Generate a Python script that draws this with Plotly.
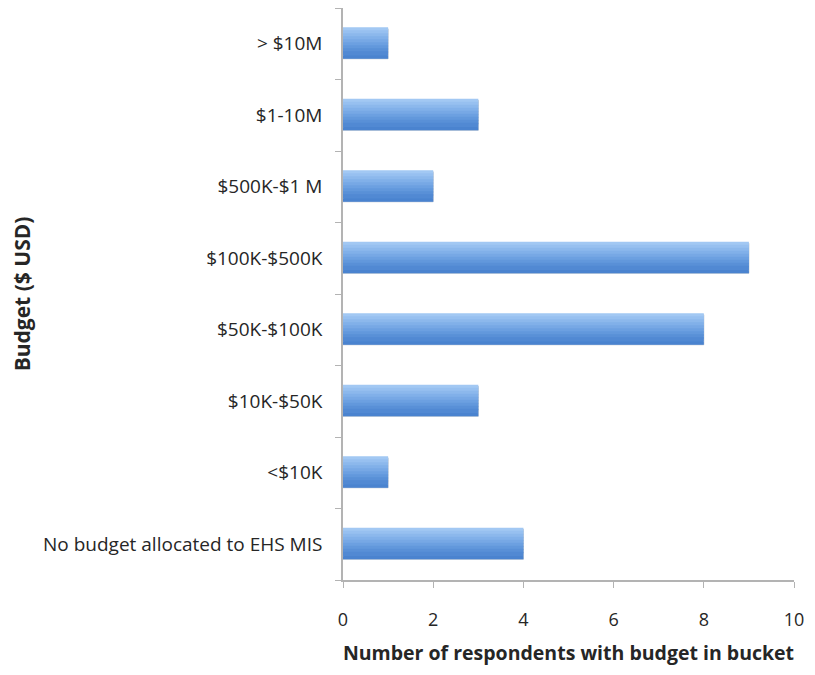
import plotly.graph_objects as go

# categories listed bottom to top
budgets = ["No budget allocated to EHS MIS", "<$10K", "$10K-$50K", "$50K-$100K",
           "$100K-$500K", "$500K-$1 M", "$1-10M", "> $10M"]
respondents = [4, 1, 3, 8, 9, 2, 3, 1]
x_ticks = [0, 2, 4, 6, 8, 10]

# light-to-dark vertical shading, top strip first
shades = ["#a2c8f3", "#97c0f0", "#8cb8ec", "#81b0e9", "#77a8e5",
          "#6ca0e1", "#6298dc", "#5990d7", "#5189d3", "#4a83cf"]
bar_w = 0.42
strip = bar_w / len(shades)

fig = go.Figure()
fig.add_trace(go.Bar(y=budgets, x=respondents, orientation="h", width=bar_w,
                     marker=dict(color="#4a83cf", line=dict(color="#c3cbd6", width=1)),
                     showlegend=False, hoverinfo="skip"))
for i, c in enumerate(shades):
    off = bar_w / 2 - (i + 1) * strip
    w = strip + 0.02 if i < len(shades) - 1 else strip
    fig.add_trace(go.Bar(y=budgets, x=respondents, orientation="h",
                         width=w, offset=off,
                         marker=dict(color=c, line=dict(width=0)),
                         showlegend=False))

# page body adds 8px, so the figure is 8px smaller and shifted
fig.update_layout(
    barmode="overlay",
    width=807, height=667,
    margin=dict(l=335, r=21, t=0, b=95, pad=0),
    plot_bgcolor="white", paper_bgcolor="white",
    font=dict(family="Open Sans, Liberation Sans, sans-serif", size=18, color="#262626"),
)
fig.update_xaxes(range=[0, 10], tickvals=x_ticks, showgrid=False, zeroline=False,
                 showline=True, linecolor="#b3b3b3", linewidth=1.5, automargin=False,
                 ticks="outside", ticklen=6, tickcolor="#b3b3b3",
                 ticklabelstandoff=17, tickfont=dict(size=18),
                 title=dict(text="<b>Number of respondents with budget in bucket</b>",
                            font=dict(size=19.5), standoff=16))
fig.update_yaxes(categoryorder="array", categoryarray=budgets,
                 range=[-0.5, 7.5], showgrid=False, zeroline=False,
                 showline=True, linecolor="#b3b3b3", linewidth=1.5, automargin=False,
                 ticks="outside", tickson="boundaries", ticklen=6, tickcolor="#b3b3b3",
                 ticklabelstandoff=15, tickfont=dict(size=19),
                 title=dict(text="<b>Budget ($ USD)</b>", font=dict(size=21), standoff=12))

fig.write_html("out.html")
